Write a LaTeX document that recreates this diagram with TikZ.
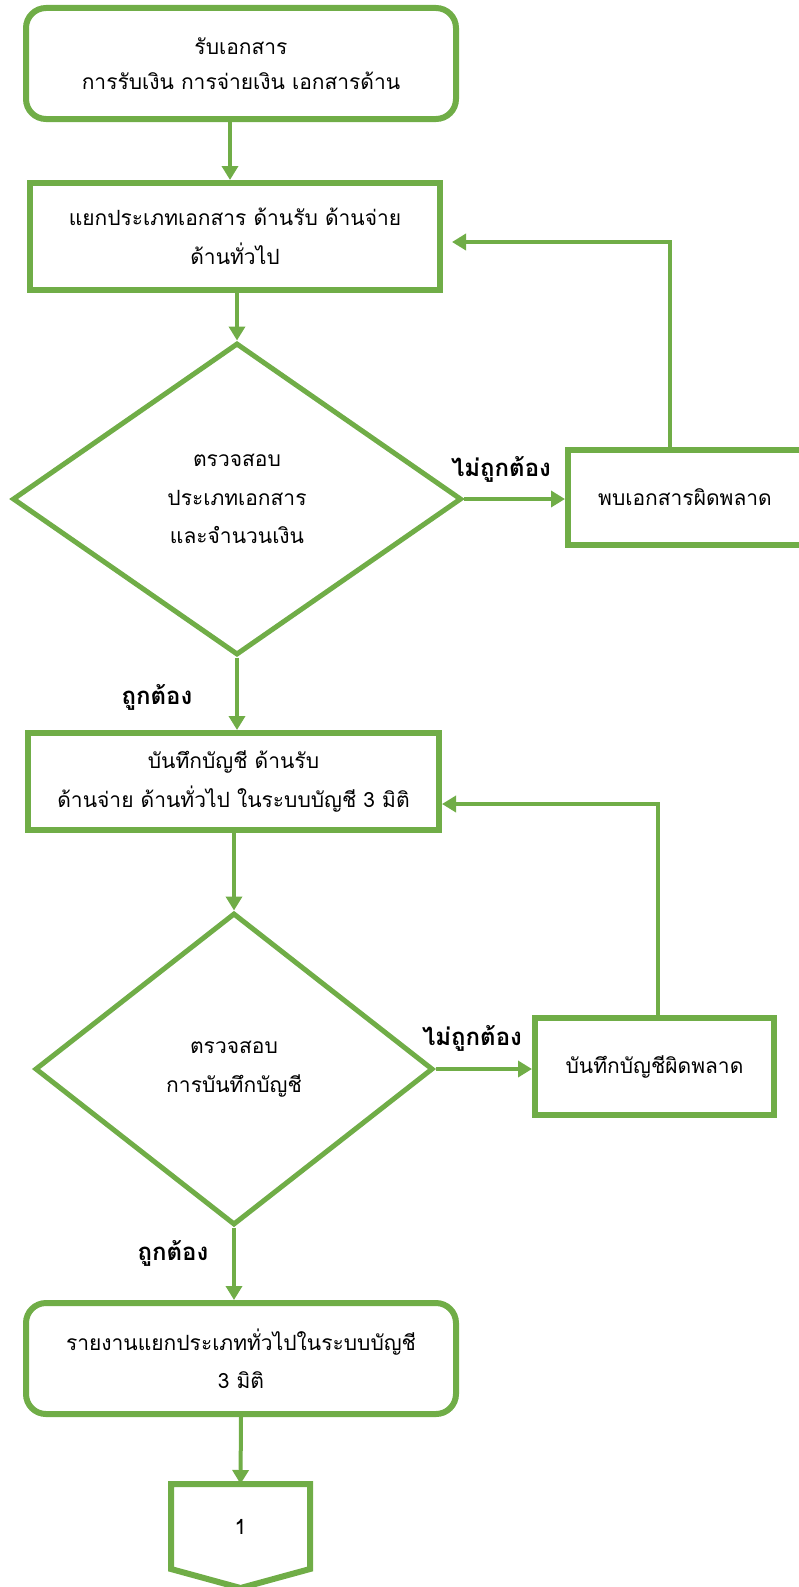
\documentclass[tikz,border=0pt]{standalone}
\usepackage{fontspec}
\newfontfamily\thaifont[Script=Thai]{Loma}
\usetikzlibrary{shapes,arrows.meta,calc}
\definecolor{flowgreen}{RGB}{112,173,71}

\begin{document}
\begin{tikzpicture}[x=1pt, y=-1pt, font=\thaifont\fontsize{21}{38.5}\selectfont,
  box/.style={rectangle, draw=flowgreen, line width=6pt, fill=white, align=center, inner sep=0pt},
  rbox/.style={box, rounded corners=20pt},
  check/.style={diamond, draw=flowgreen, line width=5pt, align=center, inner sep=0pt},
  arr/.style={draw=flowgreen, line width=4pt, -{Triangle[length=14pt,width=16pt]}},
  lbl/.style={font=\thaifont\bfseries\fontsize{24}{28}\selectfont}]

  \useasboundingbox (0,0) rectangle (798,1587);

  \node[rbox, minimum width=430pt, minimum height=111pt] at (241,63.5) (recv)
  {\raisebox{-4pt}{รับเอกสาร}\\การรับเงิน การจ่ายเงิน เอกสารด้าน};
  \node[box, minimum width=410pt, minimum height=107pt] at (235,236.5) (sort)
  {แยกประเภทเอกสาร ด้านรับ ด้านจ่าย\\ด้านทั่วไป};

  \node[check, minimum width=449pt, minimum height=312pt] at (237,499) (chkdoc)
  {ตรวจสอบ\\ประเภทเอกสาร\\และจำนวนเงิน};
  \node[box, minimum width=240pt, minimum height=95pt] at (688,497.5) (docerr)
  {\hspace*{-6pt}พบเอกสารผิดพลาด};

  \node[box, minimum width=411pt, minimum height=97pt] at (233.5,781.5) (post)
  {บันทึกบัญชี ด้านรับ\\ด้านจ่าย ด้านทั่วไป ในระบบบัญชี 3 มิติ};

  \node[check, minimum width=398pt, minimum height=312pt] at (234,1069) (chkpost)
  {ตรวจสอบ\\การบันทึกบัญชี};
  \node[box, minimum width=239pt, minimum height=97pt] at (654.5,1066.5) (posterr)
  {บันทึกบัญชีผิดพลาด};

  \node[rbox, minimum width=430pt, minimum height=111pt] at (241,1358.5) (report)
  {รายงานแยกประเภททั่วไปในระบบบัญชี\\3 มิติ};

  \node[rectangle, line width=6pt, inner sep=0pt, minimum width=133pt, minimum height=79pt]
  at (240.5,1526.5) (page) {\raisebox{-5pt}{1}};
  \draw[draw=flowgreen, line width=6pt] (page.south west) -- (page.north west) -- (page.north east)
  -- (page.south east) -- ($(page.south)+(0,19)$) -- cycle;

  \node[lbl] at (501,469) (no1) {ไม่ถูกต้อง};
  \node[lbl] at (157,697) (yes1) {ถูกต้อง};
  \node[lbl] at (472,1038) (no2) {ไม่ถูกต้อง};
  \node[lbl] at (173,1253) (yes2) {ถูกต้อง};

  \draw[arr] ([xshift=-11pt]recv.south) -- ([xshift=-5pt]sort.north);
  \draw[arr] (sort.south -| chkdoc.north) -- (chkdoc.north);
  \draw[arr] (chkdoc.east) -- (chkdoc.east -| docerr.west);
  \draw[arr] ([xshift=-18pt]docerr.north) |- ([xshift=9pt,yshift=-5.5pt]sort.east);
  \draw[arr] (chkdoc.south) -- (chkdoc.south |- post.north);
  \draw[arr] (post.south -| chkpost.north) -- (chkpost.north);
  \draw[arr] (chkpost.east) -- (chkpost.east -| posterr.west);
  \draw[arr] ([xshift=3.5pt]posterr.north) |- ([yshift=-22.5pt]post.east);
  \draw[arr] (chkpost.south) -- (chkpost.south |- report.north);
  \draw[arr] (report.south) -- (page.north);

\end{tikzpicture}
\end{document}
